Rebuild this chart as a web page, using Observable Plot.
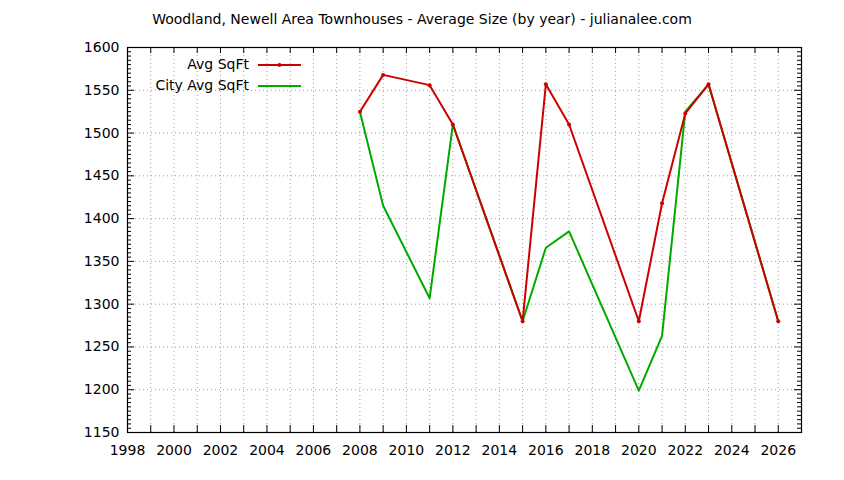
<!DOCTYPE html>
<html>
<head>
<meta charset="utf-8">
<script src="https://cdn.jsdelivr.net/npm/d3@7"></script>
<script src="https://cdn.jsdelivr.net/npm/@observablehq/plot@0.6"></script>
<style>
  html, body { margin: 0; padding: 0; background: #fff; }
  #wrap { position: relative; width: 844px; height: 480px; font-family: "DejaVu Sans", sans-serif; }
  #title { position: absolute; left: 0; top: 0; width: 844px; height: 32px; line-height: 38px; text-align: center; font-size: 14px; color: #000; }
  #chart { position: absolute; left: 0; top: 32px; }
  .leg { position: absolute; font-size: 14px; color: #000; }
</style>
</head>
<body>
<div id="wrap">
  <div id="title"></div>
  <div id="chart"></div>
  <div id="legend"></div>
</div>
<script>
const title = "Woodland, Newell Area Townhouses - Average Size (by year) - julianalee.com";
const seriesNames = ["Avg SqFt", "City Avg SqFt"];
const years = [2008, 2009, 2011, 2012, 2015, 2016, 2017, 2020, 2021, 2022, 2023, 2026];
const avgSqFt = [1525, 1568, 1556, 1510, 1280, 1557, 1510, 1280, 1418, 1523, 1557, 1280];
const cityAvgSqFt = [1525, 1415, 1307, 1510, 1280, 1366, 1385, 1199, 1263, 1525, 1557, 1280];
const xTickLabels = [1998, 2000, 2002, 2004, 2006, 2008, 2010, 2012, 2014, 2016, 2018, 2020, 2022, 2024, 2026];
const yTickLabels = [1150, 1200, 1250, 1300, 1350, 1400, 1450, 1500, 1550, 1600];
const xDomain = [1998, 2027];
const yDomain = [1150, 1600];
const colors = ["#cc0000", "#00aa00"];

document.getElementById("title").textContent = title;

const W = 844, H = 448;
const mL = 127, mR = 43, mT = 15, mB = 48;
const pw = W - mL - mR, ph = H - mT - mB;

const red = years.map((y, i) => ({year: y, v: avgSqFt[i]}));
const green = years.map((y, i) => ({year: y, v: cityAvgSqFt[i]}));
const yearGrid = d3.range(xDomain[0], xDomain[1]);
const yMinor = d3.range(yDomain[0], yDomain[1] + 0.1, 5).filter(v => v % 50 !== 0);

const plot = Plot.plot({
  width: W, height: H,
  marginLeft: mL, marginRight: mR, marginTop: mT, marginBottom: mB,
  style: {fontFamily: "DejaVu Sans, sans-serif", fontSize: "14px", color: "#000", background: "#fff"},
  x: {domain: xDomain, axis: null, label: null},
  y: {domain: yDomain, axis: null, label: null},
  marks: [
    Plot.ruleX(yearGrid.filter(d => d !== xDomain[0]), {x: d => d, stroke: "#a0a0a0", strokeDasharray: "1,3"}),
    Plot.ruleY(yTickLabels.filter(d => d !== yDomain[0] && d !== yDomain[1]), {y: d => d, stroke: "#a0a0a0", strokeDasharray: "1,3"}),
    // inward ticks
    Plot.tickX(yearGrid, {x: d => d, insetTop: ph - 7, stroke: "#000"}),
    Plot.tickX(yearGrid, {x: d => d, insetBottom: ph - 6, stroke: "#000"}),
    Plot.tickY(yTickLabels, {y: d => d, insetRight: pw - 7, stroke: "#000"}),
    Plot.tickY(yTickLabels, {y: d => d, insetLeft: pw - 7, stroke: "#000"}),
    Plot.tickY(yMinor, {y: d => d, insetRight: pw - 4, stroke: "#000"}),
    Plot.tickY(yMinor, {y: d => d, insetLeft: pw - 4, stroke: "#000"}),
    Plot.frame({stroke: "#000", strokeWidth: 1.2}),
    Plot.axisX(xTickLabels, {x: d => d, tickSize: 0, tickPadding: 13, fontSize: 14, fill: "#000", label: null, tickFormat: d => String(d)}),
    Plot.axisY(yTickLabels, {y: d => d, tickSize: 0, tickPadding: 8, fontSize: 14, fill: "#000", label: null, tickFormat: d => String(d)}),
    Plot.line(green, {x: "year", y: "v", stroke: colors[1], strokeWidth: 2}),
    Plot.line(red, {x: "year", y: "v", stroke: colors[0], strokeWidth: 2}),
    Plot.dot(red, {x: "year", y: "v", fill: colors[0], r: 2, stroke: null})
  ]
});
document.getElementById("chart").appendChild(plot);

// legend
const leg = document.getElementById("legend");
seriesNames.forEach((name, i) => {
  const yc = 65 + i * 21;
  const t = document.createElement("div");
  t.className = "leg";
  t.textContent = name;
  t.style.right = (844 - 249) + "px";
  t.style.top = (yc - 9) + "px";
  t.style.lineHeight = "16px";
  leg.appendChild(t);
  const s = document.createElementNS("http://www.w3.org/2000/svg", "svg");
  s.setAttribute("width", 46); s.setAttribute("height", 10);
  s.style.position = "absolute"; s.style.left = "257px"; s.style.top = (yc - 5) + "px";
  s.innerHTML = `<line x1="1" x2="44" y1="5" y2="5" stroke="${colors[i]}" stroke-width="2"/>` +
    (i === 0 ? `<circle cx="22.5" cy="5" r="2" fill="${colors[i]}"/>` : "");
  leg.appendChild(s);
});
</script>
</body>
</html>
